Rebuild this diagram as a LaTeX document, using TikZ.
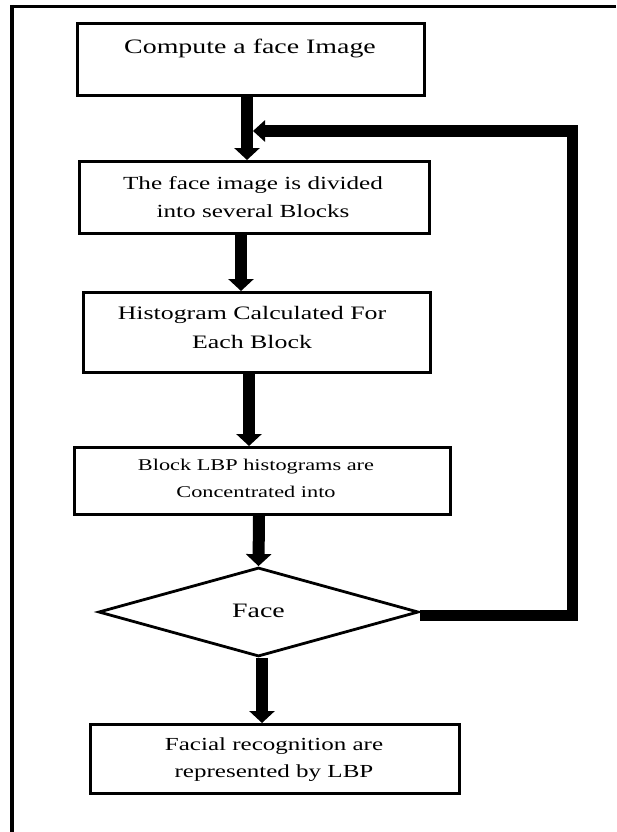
\documentclass[tikz,border=0pt]{standalone}
\usepackage{fontspec}
\setmainfont{Liberation Serif}[FakeStretch=1.36]
\usetikzlibrary{arrows.meta,shapes.geometric}
\begin{document}
\begin{tikzpicture}[x=1pt,y=-1pt,
  box/.style={draw,line width=3.4pt,inner sep=0pt,minimum width=#1},
  txt/.style={align=center,inner sep=0pt},
  bigarrow/.style={line width=12pt,-{Triangle[width=25pt,length=12pt]}},
  fb/.style={line width=11pt,line join=miter,-{Triangle[width=21pt,length=12pt]}}]
\useasboundingbox (0,0) rectangle (616,832);
% outer frame
\coordinate (fr1) at (616,6.5);
\coordinate (fr2) at (10.5,6.5);
\coordinate (fr2b) at (12,5);
\coordinate (fr3) at (12,832);
\draw[line width=3pt] (fr1) -- (fr2);
\draw[line width=4.2pt] (fr2b) -- (fr3);
% boxes
\node[box=346.6pt,minimum height=71.6pt] (b1) at (251,59.5) {};
\node[box=349.6pt,minimum height=71.6pt] (b2) at (254.5,197.5) {};
\node[box=346.6pt,minimum height=79.6pt] (b3) at (257,332.5) {};
\node[box=375.6pt,minimum height=66.6pt] (b4) at (262.5,481) {};
\node[box=368.6pt,minimum height=68.6pt] (b5) at (275,759) {};
\node[draw,diamond,line width=2.8pt,inner sep=0pt,minimum width=320pt,minimum height=89pt] (d) at (258.5,612) {};
% texts
\node[txt,font=\fontsize{20.5}{28}\selectfont] (t1) at (250,48) {Compute a face Image};
\node[txt,font=\fontsize{18.5}{28}\selectfont] (t2) at (253,197) {The face image is divided\\into several Blocks};
\node[txt,font=\fontsize{19}{29}\selectfont] (t3) at (252,327) {Histogram Calculated For\\Each Block};
\node[txt,font=\fontsize{16.4}{27}\selectfont] (t4) at (256,478) {Block LBP histograms are\\Concentrated into};
\node[txt,font=\fontsize{20.5}{21}\selectfont] (td) at (258.5,611) {Face};
\node[txt,font=\fontsize{18.4}{27}\selectfont] (t5) at (274,760) {Facial recognition are\\represented by LBP};
% arrows
\draw[bigarrow] (b1.south -| 247,0) -- (b2.north -| 247,0);
\draw[bigarrow] (b2.south -| 241,0) -- (b3.north -| 241,0);
\draw[bigarrow] (b3.south -| 249,0) -- (b4.north -| 249,0);
\draw[bigarrow] (b4.south -| 259,0) -- (d.north);
\draw[bigarrow] (d.south -| 262,0) -- (b5.north -| 262,0);
% feedback loop
\coordinate (c1) at (572,615);
\coordinate (c2) at (572,131);
\coordinate (fbend) at (253,131);
\draw[fb] (d.east |- c1) -- (c1) -- (c2) -- (fbend);
\end{tikzpicture}
\end{document}
